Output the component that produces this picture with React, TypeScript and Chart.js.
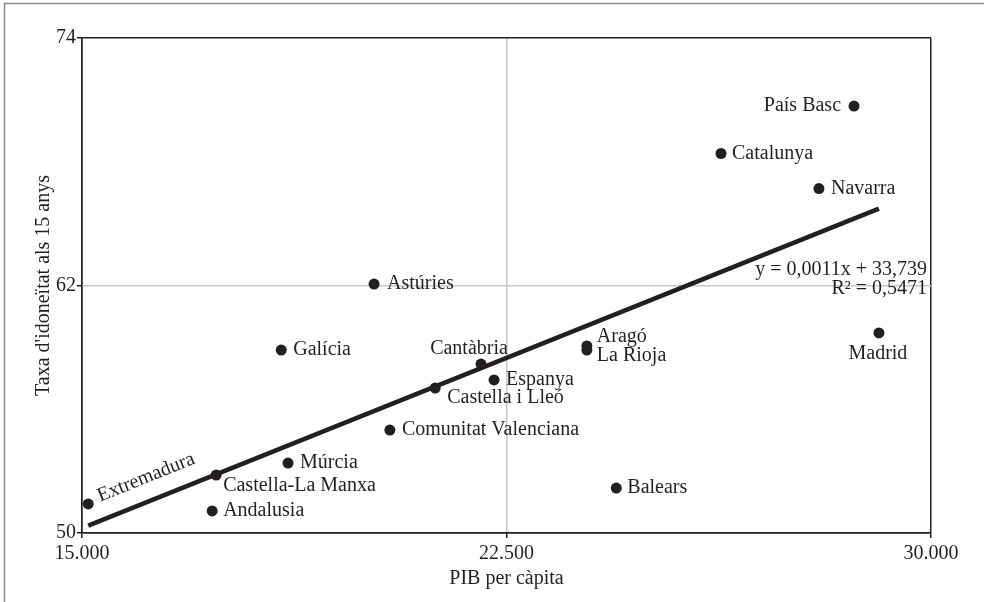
import { useEffect, useRef } from "react";
import { Chart, registerables } from "chart.js";

Chart.register(...registerables);

// Comunitats autònomes: PIB per càpita vs taxa d'idoneïtat als 15 anys
const regions = [
  "País Basc",
  "Catalunya",
  "Navarra",
  "Madrid",
  "Astúries",
  "Galícia",
  "Cantàbria",
  "Aragó",
  "La Rioja",
  "Espanya",
  "Castella i Lleó",
  "Comunitat Valenciana",
  "Múrcia",
  "Castella-La Manxa",
  "Extremadura",
  "Andalusia",
  "Balears",
];
const pibPerCapita = [
  28640, 26290, 28020, 29080, 20160, 18520, 22050, 23920, 23920, 22280, 21240,
  20440, 18640, 17370, 15110, 17300, 24440,
];
const taxaIdoneitat = [
  70.7, 68.4, 66.7, 59.7, 62.07, 58.87, 58.19, 59.07, 58.87, 57.42, 57.03, 54.99,
  53.39, 52.81, 51.41, 51.07, 52.18,
];

const xTicks = [15000, 22500, 30000];
const yTicks = [50, 62, 74];

// Regression line y = a·x + b
const trendSlope = 0.0011;
const trendIntercept = 33.739;
const trendText = ["y = 0,0011x + 33,739", "R² = 0,5471"];

const xTitle = "PIB per càpita";
const yTitle = "Taxa d'idoneïtat als 15 anys";

// How each point label sits next to its dot (pixel offsets, alignment)
type Placement = { dx: number; dy: number; align: CanvasTextAlign; rotate?: number };
const placements: Placement[] = [
  { dx: -13, dy: 0, align: "right" },
  { dx: 11, dy: 0, align: "left" },
  { dx: 12, dy: 0, align: "left" },
  { dx: -1, dy: 21, align: "center" },
  { dx: 13, dy: 0, align: "left" },
  { dx: 12, dy: 0, align: "left" },
  { dx: -12, dy: -15, align: "center" },
  { dx: 10, dy: -9, align: "left" },
  { dx: 10, dy: 6, align: "left" },
  { dx: 12, dy: 0, align: "left" },
  { dx: 12, dy: 10, align: "left" },
  { dx: 12, dy: 0, align: "left" },
  { dx: 12, dy: 0, align: "left" },
  { dx: 7, dy: 11, align: "left" },
  { dx: 10, dy: -7, align: "left", rotate: -22 },
  { dx: 11, dy: 0, align: "left" },
  { dx: 11, dy: 0, align: "left" },
];

const INK = "#231f20";
const FONT_FAMILY = "'Liberation Serif', 'DejaVu Serif', serif";
const FONT_SIZE = 20;

const formatThousands = (v: number) =>
  String(Math.round(v)).replace(/\B(?=(\d{3})+(?!\d))/g, ".");

const gridColor = (value: number, min: number, max: number) =>
  value === min || value === max ? INK : "#c8c8c8";

const framePlugin = {
  id: "frame",
  beforeDraw(chart: Chart) {
    const { ctx, width, height } = chart;
    ctx.save();
    ctx.fillStyle = "#ffffff";
    ctx.fillRect(0, 0, width, height);
    ctx.strokeStyle = "#8a8a8a";
    ctx.lineWidth = 1.5;
    ctx.strokeRect(4.5, 3.5, width + 20, height + 20);
    ctx.restore();
  },
};

const labelPlugin = {
  id: "pointLabels",
  afterDatasetsDraw(chart: Chart) {
    const { ctx } = chart;
    const xs = chart.scales.x;
    const ys = chart.scales.y;
    ctx.save();
    ctx.fillStyle = INK;
    ctx.font = `${FONT_SIZE}px ${FONT_FAMILY}`;
    regions.forEach((name, i) => {
      const p = placements[i];
      const px = xs.getPixelForValue(pibPerCapita[i]);
      const py = ys.getPixelForValue(taxaIdoneitat[i]);
      ctx.save();
      ctx.translate(px + p.dx, py + p.dy);
      if (p.rotate) ctx.rotate((p.rotate * Math.PI) / 180);
      ctx.textAlign = p.align;
      ctx.textBaseline = "middle";
      ctx.fillText(name, 0, 0);
      ctx.restore();
    });

    // regression equation, right-aligned inside the plot
    const right = chart.chartArea.right - 4;
    const yMid = ys.getPixelForValue(62);
    ctx.textAlign = "right";
    ctx.textBaseline = "middle";
    ctx.fillText(trendText[0], right, yMid - 16);
    ctx.fillText(trendText[1], right, yMid + 3);
    ctx.restore();
  },
};

export default function App() {
  const canvasRef = useRef<HTMLCanvasElement | null>(null);

  useEffect(() => {
    if (!canvasRef.current) return;
    const xMin = Math.min(...pibPerCapita);
    const xMax = Math.max(...pibPerCapita);
    const trendData = [
      { x: xMin, y: trendSlope * xMin + trendIntercept },
      { x: xMax, y: trendSlope * xMax + trendIntercept },
    ];
    const font = { family: FONT_FAMILY, size: FONT_SIZE };

    const chart = new Chart(canvasRef.current, {
      type: "scatter",
      data: {
        datasets: [
          {
            type: "line",
            label: "tendència",
            data: trendData,
            borderColor: INK,
            borderWidth: 4.5,
            pointRadius: 0,
            fill: false,
          },
          {
            type: "scatter",
            label: "comunitats",
            data: regions.map((_, i) => ({ x: pibPerCapita[i], y: taxaIdoneitat[i] })),
            backgroundColor: INK,
            borderWidth: 0,
            pointRadius: 5.5,
          },
        ],
      },
      options: {
        animation: false,
        responsive: true,
        maintainAspectRatio: false,
        layout: { padding: { left: 12, top: 38, right: 53, bottom: 11 } },
        plugins: { legend: { display: false }, tooltip: { enabled: false } },
        scales: {
          x: {
            type: "linear",
            min: xTicks[0],
            max: xTicks[xTicks.length - 1],
            afterBuildTicks: (axis: any) => {
              axis.ticks = xTicks.map((v) => ({ value: v }));
            },
            afterFit: (axis: any) => {
              axis.height = 58;
            },
            ticks: {
              color: INK,
              font,
              padding: 4,
              maxRotation: 0,
              callback: (v: any) => formatThousands(Number(v)),
            },
            grid: {
              color: (c: any) => gridColor(c.tick?.value, xTicks[0], xTicks[2]),
              tickColor: INK,
              tickLength: 5,
              lineWidth: 1.5,
            },
            border: { color: INK, width: 1.5 },
            title: {
              display: true,
              text: xTitle,
              color: INK,
              font,
              padding: { top: 0, bottom: 0 },
            },
          },
          y: {
            type: "linear",
            min: yTicks[0],
            max: yTicks[yTicks.length - 1],
            afterBuildTicks: (axis: any) => {
              axis.ticks = yTicks.map((v) => ({ value: v }));
            },
            afterFit: (axis: any) => {
              axis.width = 70;
            },
            ticks: { color: INK, font, padding: 1 },
            grid: {
              color: (c: any) => gridColor(c.tick?.value, yTicks[0], yTicks[2]),
              tickColor: INK,
              tickLength: 5,
              lineWidth: 1.5,
            },
            border: { color: INK, width: 1.5 },
            title: {
              display: true,
              text: yTitle,
              color: INK,
              font,
              padding: { top: 20, bottom: 0 },
            },
          },
        },
      },
      plugins: [framePlugin, labelPlugin],
    });

    return () => chart.destroy();
  }, []);

  return (
    <div style={{ position: "fixed", left: 0, top: 0, width: 984, height: 602 }}>
      <canvas ref={canvasRef} />
    </div>
  );
}
